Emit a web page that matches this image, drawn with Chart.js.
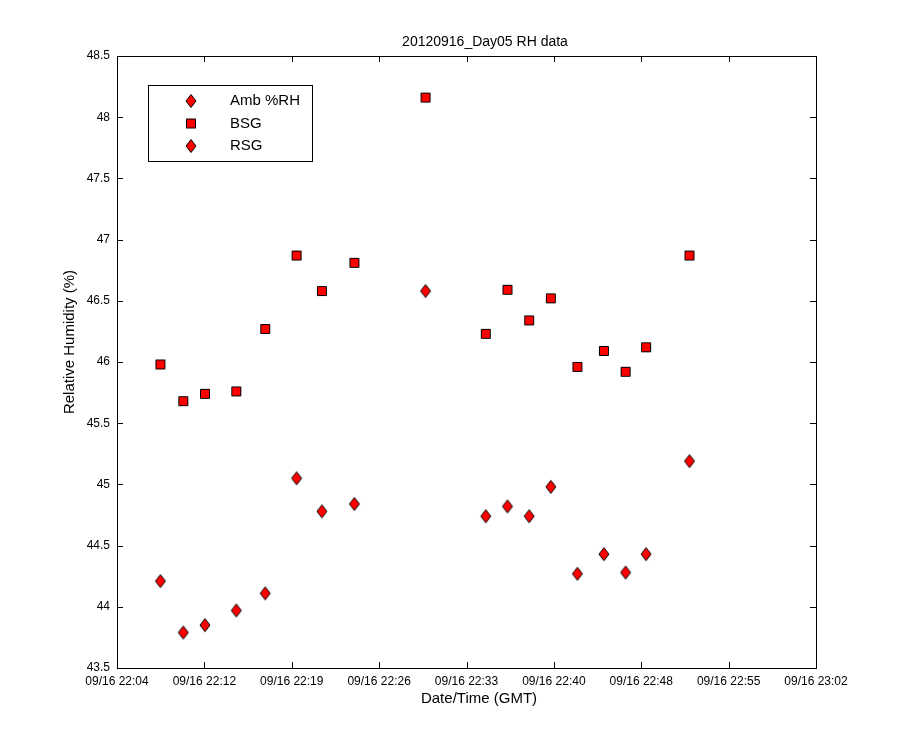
<!DOCTYPE html>
<html>
<head>
<meta charset="utf-8">
<script src="https://cdn.jsdelivr.net/npm/chart.js@4"></script>
<style>
  html, body { margin: 0; padding: 0; background: #fff; }
  #wrap { width: 900px; height: 750px; }
</style>
</head>
<body>
<div id="wrap"><canvas id="rh-chart" width="900" height="750"></canvas></div>
<script>
// minutes after 09/16 22:04
const sampleMinutes = [3.6, 5.5, 7.3, 9.9, 12.3, 14.9, 17.0, 19.7, 25.6, 30.6, 32.4, 34.2, 36.0, 38.2, 40.4, 42.2, 43.9, 47.5];
const bsgValues = [45.98, 45.68, 45.74, 45.76, 46.27, 46.87, 46.58, 46.81, 48.16, 46.23, 46.59, 46.34, 46.52, 45.96, 46.09, 45.92, 46.12, 46.87];
const rsgValues = [44.21, 43.79, 43.85, 43.97, 44.11, 45.05, 44.78, 44.84, 46.58, 44.74, 44.82, 44.74, 44.98, 44.27, 44.43, 44.28, 44.43, 45.19];
const ambValues = [];
const xTickLabels = ["09/16 22:04", "09/16 22:12", "09/16 22:19", "09/16 22:26", "09/16 22:33", "09/16 22:40", "09/16 22:48", "09/16 22:55", "09/16 23:02"];
const yTickLabels = ["43.5", "44", "44.5", "45", "45.5", "46", "46.5", "47", "47.5", "48", "48.5"];
const seriesNames = ["Amb %RH", "BSG", "RSG"];

const FONT = "'Liberation Sans', Arial, sans-serif";
const xSpan = 58;

function markerCanvas(kind) {
  const c = document.createElement("canvas");
  c.width = 14;
  c.height = 16;
  const g = c.getContext("2d");
  g.fillStyle = "#ff0000";
  g.strokeStyle = "#000";
  g.lineWidth = 1;
  g.beginPath();
  if (kind === "diamond") {
    g.moveTo(7, 1.5);
    g.lineTo(12, 8);
    g.lineTo(7, 14.5);
    g.lineTo(2, 8);
    g.closePath();
  } else {
    g.rect(2.5, 3.5, 9, 9);
  }
  g.fill();
  g.stroke();
  return c;
}
const diamond = markerCanvas("diamond");
const square = markerCanvas("square");

function toPoints(vals) {
  return vals.map((v, i) => ({ x: sampleMinutes[i], y: v }));
}

const matlabFrame = {
  id: "matlabFrame",
  afterDraw(chart) {
    const { ctx, chartArea: a, scales } = chart;
    ctx.save();
    ctx.strokeStyle = "#000";
    ctx.lineWidth = 1;
    ctx.strokeRect(a.left + 0.5, a.top + 0.5, a.right - a.left, a.bottom - a.top);
    const tl = 6;
    ctx.beginPath();
    scales.x.ticks.forEach((t) => {
      const px = Math.round(scales.x.getPixelForValue(t.value)) + 0.5;
      ctx.moveTo(px, a.bottom);
      ctx.lineTo(px, a.bottom - tl);
      ctx.moveTo(px, a.top);
      ctx.lineTo(px, a.top + tl);
    });
    scales.y.ticks.forEach((t) => {
      const py = Math.round(scales.y.getPixelForValue(t.value)) + 0.5;
      ctx.moveTo(a.left, py);
      ctx.lineTo(a.left + tl, py);
      ctx.moveTo(a.right, py);
      ctx.lineTo(a.right - tl, py);
    });
    ctx.stroke();

    // titles
    ctx.fillStyle = "#000";
    ctx.textAlign = "center";
    ctx.textBaseline = "middle";
    ctx.font = "14px " + FONT;
    ctx.fillText("20120916_Day05 RH data", 485, 42);
    ctx.font = "15px " + FONT;
    ctx.fillText("Date/Time (GMT)", 479, 699);
    ctx.translate(70, 342);
    ctx.rotate(-Math.PI / 2);
    ctx.fillText("Relative Humidity (%)", 0, 0);
    ctx.setTransform(1, 0, 0, 1, 0, 0);
    ctx.restore();

    // legend box
    ctx.save();
    const lx = 148, ly = 85, lw = 164, lh = 76;
    ctx.fillStyle = "#fff";
    ctx.fillRect(lx, ly, lw, lh);
    ctx.strokeStyle = "#000";
    ctx.strokeRect(lx + 0.5, ly + 0.5, lw, lh);
    ctx.font = "15px " + FONT;
    ctx.textAlign = "left";
    ctx.textBaseline = "middle";
    ctx.fillStyle = "#000";
    chart.data.datasets.forEach((ds, i) => {
      const cy = 101 + i * 22.5;
      const img = ds.pointStyle;
      ctx.drawImage(img, 191 - img.width / 2, cy - img.height / 2);
      ctx.fillText(ds.label, 230, cy);
    });
    ctx.restore();
  },
};

new Chart(document.getElementById("rh-chart"), {
  type: "scatter",
  data: {
    datasets: [
      { label: seriesNames[0], data: toPoints(ambValues), pointStyle: diamond },
      { label: seriesNames[1], data: toPoints(bsgValues), pointStyle: square },
      { label: seriesNames[2], data: toPoints(rsgValues), pointStyle: diamond },
    ],
  },
  options: {
    responsive: false,
    animation: false,
    devicePixelRatio: 1,
    layout: { padding: { top: 56, right: 84, left: 0, bottom: 0 } },
    plugins: {
      legend: { display: false },
      tooltip: { enabled: false },
    },
    scales: {
      x: {
        type: "linear",
        min: 0,
        max: xSpan,
        afterBuildTicks: (s) => {
          s.ticks = xTickLabels.map((_, i) => ({ value: (i * xSpan) / (xTickLabels.length - 1) }));
        },
        afterFit: (s) => { s.height = 82; },
        grid: { display: false, drawTicks: false },
        border: { display: false },
        ticks: {
          color: "#000",
          padding: 6,
          maxRotation: 0,
          autoSkip: false,
          font: { family: FONT, size: 12 },
          callback: (v, i) => xTickLabels[i],
        },
      },
      y: {
        min: 43.5,
        max: 48.5,
        afterBuildTicks: (s) => {
          s.ticks = yTickLabels.map((t) => ({ value: Number(t) }));
        },
        afterFit: (s) => { s.width = 117; },
        grid: { display: false, drawTicks: false },
        border: { display: false },
        ticks: {
          color: "#000",
          padding: 7,
          font: { family: FONT, size: 12 },
          callback: (v, i) => yTickLabels[i],
        },
      },
    },
  },
  plugins: [matlabFrame],
});
</script>
</body>
</html>
